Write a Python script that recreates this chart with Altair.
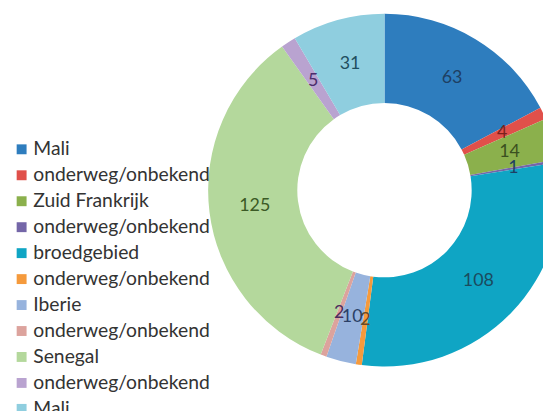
import altair as alt
import pandas as pd

names = ["Mali", "onderweg/onbekend", "Zuid Frankrijk", "onderweg/onbekend",
         "broedgebied", "onderweg/onbekend", "Iberie", "onderweg/onbekend",
         "Senegal", "onderweg/onbekend", "Mali"]
values = [63, 4, 14, 1, 108, 2, 10, 2, 125, 5, 31]
colors = ["#2E7DBE", "#E0504A", "#8BB04C", "#7466A8", "#0FA5C4", "#F59A3C",
          "#97B3DD", "#DCA39D", "#B4D89C", "#B9A3D0", "#8FCEDF"]
label_colors = ["#1E3F63", "#7A1F1C", "#3B5020", "#1E3F63", "#1B4B5E", "#6A4A2A",
                "#2A3F66", "#4A2E5E", "#3B5A25", "#4B2E6B", "#1F4F5F"]

keys = [f"{i:02d} {n}" for i, n in enumerate(names)]
df = pd.DataFrame({"key": keys, "value": values, "idx": list(range(len(values))),
                   "tcolor": label_colors})

cx, cy = 380, 182

base = alt.Chart(df).encode(
    theta=alt.Theta("value:Q", stack=True),
    order=alt.Order("idx:Q"),
)

arcs = base.mark_arc(outerRadius=178, innerRadius=88).encode(
    x=alt.value(cx), y=alt.value(cy),
    color=alt.Color("key:N", scale=alt.Scale(domain=keys, range=colors),
                    legend=alt.Legend(
                        title=None, orient="none", legendX=4, legendY=131,
                        symbolType="square", symbolSize=100, symbolStrokeWidth=0,
                        labelFont="Lato", labelFontSize=19.5, labelColor="#333333",
                        labelExpr="substring(datum.label, 3)", labelOffset=2,
                        rowPadding=5.2, padding=0, labelLimit=300)),
)

labels = base.mark_text(radius=132, font="Lato", fontSize=18).encode(
    x=alt.value(cx), y=alt.value(cy),
    text=alt.Text("value:Q"),
    color=alt.Color("tcolor:N", scale=None),
)

chart = (arcs + labels).properties(
    width=540, height=403, padding=0,
    autosize=alt.AutoSizeParams(type="none"),
).configure_view(stroke=None)

chart.save("out.html", embed_options={"renderer": "svg", "actions": False})
